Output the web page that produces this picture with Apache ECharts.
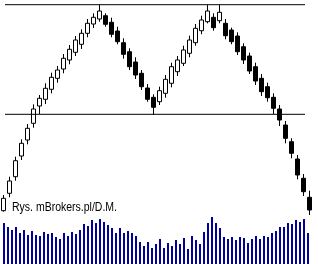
<!DOCTYPE html>
<html>
<head>
<meta charset="utf-8">
<script src="https://cdn.jsdelivr.net/npm/echarts@6/dist/echarts.min.js"></script>
<style>html,body{margin:0;padding:0;background:#fff;}#c{width:318px;height:264px;}</style>
</head>
<body>
<div id="c"></div>
<script>
// Candles (price units)
const opens  = [9.3,26.7,43.3,64,80,96.7,114,120.7,130.7,141.7,151,160,167.7,175.7,186.7,196,201,
  204.3,197.7,189,177.3,168.3,158,146.7,132,122.7,
  118.3,126.7,136.7,148.3,156.7,166.7,177.3,189.3,198.3,202.7,199.3,
  196.7,190,184,173.3,164,153.3,141.7,133.3,122.7,111,95,78.3,61,41.7,22.7];
const closes = [21.7,39,59.3,76.7,91.7,111,121.7,131.7,142.7,150,161.7,170.7,180,186.7,196.7,202.7,209,
  195.7,185.7,178.3,165.7,153.3,145,133.3,120.7,112.7,
  129.3,140.7,153.3,160,170,180,191.7,200,209,192.3,207.7,
  184.3,178.3,168.3,160,149,139,128.3,122.3,111.7,100,81.7,66.7,45,28.3,10];
const lows   = [8.3,22.7,39.3,60,75.7,92.3,106,116,126.7,137.3,146.7,155.7,164,171,182.7,192,198.3,
  193.3,182.7,175.7,161.3,150,141,130,118.3,105,
  115,122.3,132.7,144,154,162.7,174.3,185.7,196.7,189.3,196.7,
  180.7,175.7,165,156,146,135,124,118.3,106,94,76.7,61.7,40.7,24,5];
const highs  = [25,43.3,63.3,80.7,96,115.7,125,136.7,147.3,154,166,175,184,190.7,201,206.7,215.3,
  206.7,202.3,193.3,181.7,171.7,162.7,150,136,125.7,
  133.3,145,157.3,164,174.3,184.3,196,204.3,215,206.7,215,
  201,192.3,187.7,176.7,167.3,157.3,146,137.3,126.7,115,99,81.7,65,46,29.3];
const candleDays = opens.map((_, i) => String(i + 1));

// Volume
const volumes = [41,37,34,37,31,34,29,33,29,28,32,30,31,27,25,31,28,32,30,
  34,40,38,44,41,45,42,39,36,31,36,31,33,31,28,22,18,22,16,20,
  25,16,21,18,24,20,26,15,28,24,20,32,41,47,41,36,27,25,27,24,
  27,26,21,25,28,25,28,27,31,33,37,37,41,40,44,42,45,31];
const volumeDays = volumes.map((_, i) => String(i + 1));

// Pattern lines
const resistanceLevel = 215.3;
const necklineLevel = 105.7;
const lineFrom = 0.25, lineTo = 50.25; // in candle index units

const caption = 'Rys. mBrokers.pl/D.M.';

const chart = echarts.init(document.getElementById('c'), null, {renderer: 'canvas'});
chart.setOption({
  animation: false,
  backgroundColor: '#fff',
  graphic: [{
    type: 'text', x: 12, y: 201, scaleX: 0.84, silent: true,
    style: {text: caption, font: '12.5px "Liberation Sans", Arial, sans-serif', fill: '#000', verticalAlign: 'top', align: 'left'}
  }],
  grid: [
    {left: 0.5, top: 0, width: 312, height: 220},
    {left: 2, width: 308, bottom: 0, height: 50}
  ],
  xAxis: [
    {type: 'category', gridIndex: 0, data: candleDays, boundaryGap: true, show: false},
    {type: 'category', gridIndex: 1, data: volumeDays, boundaryGap: true, show: false},
    {type: 'value', gridIndex: 0, min: -0.5, max: 51.5, show: false}
  ],
  yAxis: [
    {type: 'value', gridIndex: 0, min: 0, max: 220, show: false},
    {type: 'value', gridIndex: 1, min: 0, max: 50, show: false}
  ],
  series: [
    {
      type: 'line', xAxisIndex: 2, yAxisIndex: 0, symbol: 'none', silent: true,
      data: [[lineFrom, resistanceLevel], [lineTo, resistanceLevel]],
      lineStyle: {color: '#000', width: 1}
    },
    {
      type: 'line', xAxisIndex: 2, yAxisIndex: 0, symbol: 'none', silent: true,
      data: [[lineFrom, necklineLevel], [lineTo, necklineLevel]],
      lineStyle: {color: '#000', width: 1}
    },
    {
      type: 'candlestick', xAxisIndex: 0, yAxisIndex: 0, barWidth: 4,
      data: opens.map((o, i) => [o, closes[i], lows[i], highs[i]]),
      itemStyle: {color: '#fff', color0: '#000', borderColor: '#000', borderColor0: '#000', borderWidth: 1}
    },
    {
      type: 'bar', xAxisIndex: 1, yAxisIndex: 1, barWidth: 2,
      data: volumes, itemStyle: {color: '#00009c'}
    }
  ]
});
</script>
</body>
</html>
